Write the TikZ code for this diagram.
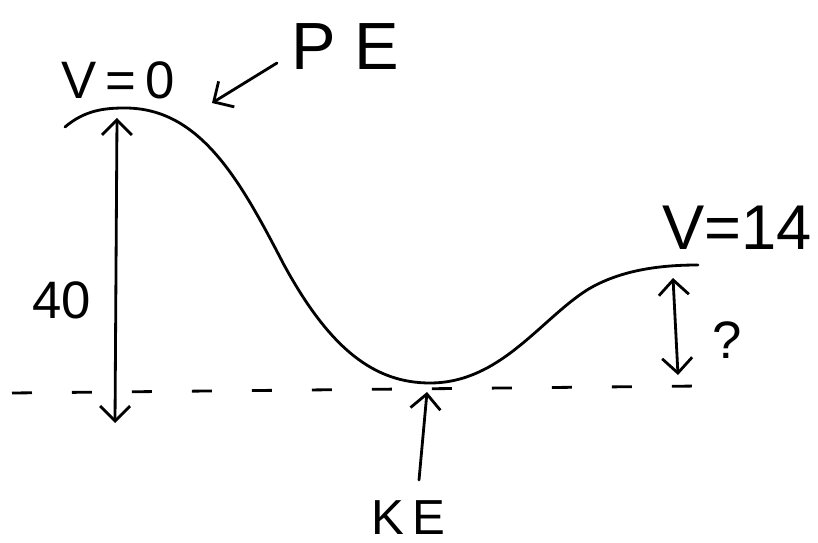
\documentclass[tikz,border=0pt]{standalone}
\usepackage{fontspec}
\setmainfont{Liberation Sans}
\usetikzlibrary{arrows.meta}

\begin{document}
\begin{tikzpicture}[x=0.02cm,y=-0.02cm,
    ink/.style={line width=1.6pt,line cap=round,line join=round},
    hand/.style={ink,-{Straight Barb[length=3mm,width=6mm]}},
    twoway/.style={ink,{Straight Barb[length=3mm,width=6mm]}-{Straight Barb[length=3mm,width=6mm]}},
    ground/.style={line width=1.6pt,dash pattern=on 0.4cm off 0.8cm},
    lbl/.style={inner sep=0pt,font=\fontsize{30}{32}\selectfont}]
  \useasboundingbox (0,0) rectangle (818,543);
  % the track
  \draw[ink] (65,127) .. controls (85,110) and (105,108) .. (125,108)
    .. controls (200,108) and (240,180) .. (283,263)
    .. controls (330,350) and (375,383) .. (430,383)
    .. controls (500,383) and (540,320) .. (587,290)
    .. controls (620,270) and (660,265) .. (698,265);
  % reference level
  \coordinate (gl) at (12,393);
  \coordinate (gr) at (700,386);
  \draw[ground] (gl) -- (gr);
  % labels
  \node[lbl] (vzero) at (118,80) {V\,=\,0};
  \node[lbl,font=\fontsize{38}{40}\selectfont] (pe) at (345,47) {P E};
  \node[lbl,font=\fontsize{36}{40}\selectfont] (vend) at (737,228) {V=14};
  \node[lbl] (hgt) at (62,300) {40};
  \node[lbl] (unk) at (727,340) {?};
  \node[lbl,font=\fontsize{28}{30}\selectfont] (ke) at (408,518) {K\,E};
  % arrows
  \coordinate (peak) at (117,118);
  \coordinate (base) at (115,423);
  \coordinate (rtop) at (673,278);
  \coordinate (rbot) at (678,375);
  \coordinate (petail) at (277,63);
  \coordinate (petip) at (212,103);
  \coordinate (ketail) at (419,480);
  \coordinate (ketip) at (427,392);
  \draw[twoway] (base) -- (peak);
  \draw[twoway] (rbot) -- (rtop);
  \draw[hand] (petail) -- (petip);
  \draw[hand] (ketail) -- (ketip);
\end{tikzpicture}
\end{document}
